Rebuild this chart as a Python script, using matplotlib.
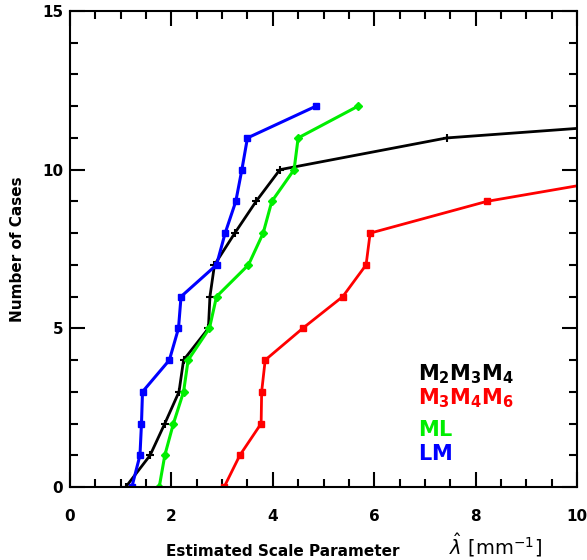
import numpy as np
import matplotlib
matplotlib.use("Agg")
import matplotlib.pyplot as plt
from matplotlib.ticker import MultipleLocator

# cumulative number of cases (y) vs estimated scale parameter (x)
cases_lm = [0, 1, 2, 3, 4, 5, 6, 7, 8, 9, 10, 11, 12]
lam_lm = [1.22, 1.38, 1.41, 1.43, 1.96, 2.14, 2.19, 2.89, 3.06, 3.27, 3.39, 3.50, 4.85]

cases_ml = [0, 1, 2, 3, 4, 5, 6, 7, 8, 9, 10, 11, 12]
lam_ml = [1.76, 1.87, 2.04, 2.24, 2.33, 2.75, 2.89, 3.52, 3.81, 3.98, 4.42, 4.50, 5.68]

cases_m234 = [0, 1, 2, 3, 4, 5, 6, 7, 8, 9, 10, 11, 12]
lam_m234 = [1.10, 1.58, 1.87, 2.15, 2.24, 2.73, 2.76, 2.85, 3.25, 3.67, 4.14, 7.43, 16.0]

cases_m346 = [0, 1, 2, 3, 4, 5, 6, 7, 8, 9, 10]
lam_m346 = [3.04, 3.35, 3.77, 3.78, 3.85, 4.59, 5.38, 5.84, 5.92, 8.22, 11.85]

fig = plt.figure(figsize=(5.87, 5.6), dpi=100)
ax = fig.add_axes([70/587, 73/560, 507/587, 476/560])

ax.plot(lam_m234, cases_m234, color='black', lw=2, marker='+', ms=6, mew=1.5)
ax.plot(lam_m346, cases_m346, color='red', lw=2, marker='s', ms=4)
ax.plot(lam_ml, cases_ml, color='#00ee00', lw=2.2, marker='D', ms=4)
ax.plot(lam_lm, cases_lm, color='blue', lw=2.2, marker='s', ms=5)

ax.set_xlim(0, 10)
ax.set_ylim(0, 15)
ax.xaxis.set_major_locator(MultipleLocator(2))
ax.xaxis.set_minor_locator(MultipleLocator(0.5))
ax.yaxis.set_major_locator(MultipleLocator(5))
ax.yaxis.set_minor_locator(MultipleLocator(1))
ax.tick_params(which='both', direction='in', top=True, right=True, width=1.5)
ax.tick_params(which='major', length=11)
ax.tick_params(which='minor', length=6)
ax.tick_params(axis='x', pad=16, labelsize=11)
ax.tick_params(axis='y', pad=5, labelsize=11)
for lab in ax.get_xticklabels() + ax.get_yticklabels():
    lab.set_fontweight('bold')
for s in ax.spines.values():
    s.set_linewidth(1.5)

ax.set_ylabel('Number of Cases', fontsize=11, fontweight='bold', labelpad=12)
ax.text(0.42, -0.135, 'Estimated Scale Parameter', transform=ax.transAxes,
        ha='center', va='center', fontsize=11, fontweight='bold')
ax.text(0.84, -0.122, r'$\hat{\lambda}\ \left[\mathrm{mm}^{-1}\right]$', transform=ax.transAxes,
        ha='center', va='center', fontsize=14)

labels = [r'$\mathbf{M_2M_3M_4}$', r'$\mathbf{M_3M_4M_6}$', r'$\mathbf{ML}$', r'$\mathbf{LM}$']
colors = ['black', 'red', '#00ee00', 'blue']
ypos = [374, 398, 430, 454]
for lab, c, yp in zip(labels, colors, ypos):
    fig.text(418/587, 1 - yp/560, lab, color=c, fontsize=15, ha='left', va='center')

fig.savefig('out.png', dpi=100)
